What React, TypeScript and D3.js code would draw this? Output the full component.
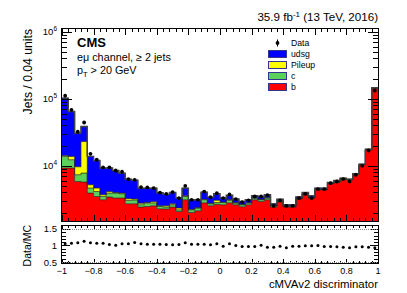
import { useEffect, useRef } from "react";
import * as d3 from "d3";

const W = 407;
const H = 293;
const frame = { left: 62, right: 378, top: 29, bottom: 221 };
const ratioFrame = { top: 226, bottom: 263 };
const binWidth = 0.04;

// stacked MC, 50 bins from -1 to 1
const bJets = [9250, 9250, 5830, 5710, 3910, 3480, 3110, 3410, 3300, 3300, 2710, 2710, 2420, 2470, 2530, 2280, 2260, 2420, 2080, 3110, 2010, 2130, 2800, 2530, 2660, 2620, 2800, 2620, 2450, 2620, 3110, 2930, 3110, 2420, 2900, 2420, 2420, 3190, 3690, 3300, 4380, 4380, 5380, 5640, 6330, 6180, 7480, 10350, 17200, 144000];
const cJets = [4550, 3050, 1520, 2070, 740, 650, 370, 500, 610, 520, 330, 370, 200, 300, 240, 190, 160, 200, 120, 370, 190, 210, 310, 180, 170, 210, 260, 150, 170, 150, 190, 180, 190, 110, 80, 70, 70, 60, 60, 60, 60, 60, 70, 80, 80, 60, 50, 100, 150, 500];
const pileupJets = [400, 1500, 2310, 15220, 550, 520, 210, 220, 80, 90, 190, 110, 150, 60, 130, 60, 110, 90, 140, 90, 40, 30, 50, 40, 230, 40, 50, 30, 20, 30, 40, 30, 40, 20, 20, 10, 10, 10, 10, 10, 10, 10, 10, 10, 10, 10, 10, 10, 20, 50];
const udsgJets = [88200, 50800, 21040, 15600, 8600, 7350, 5560, 5120, 4520, 3870, 3100, 2920, 1880, 1820, 1750, 1420, 1220, 1280, 960, 1080, 870, 740, 890, 660, 760, 430, 520, 390, 290, 310, 230, 340, 350, 170, 160, 120, 120, 180, 230, 200, 200, 200, 180, 310, 130, 80, 60, 140, 330, 1500];
const dataJets = [110900, 68500, 32200, 44300, 15100, 12300, 9440, 9500, 8510, 8150, 6330, 6180, 4810, 4760, 4650, 3990, 3820, 4050, 3300, 5020, 3110, 3110, 4130, 3410, 3910, 3300, 3730, 3190, 2870, 3040, 3480, 3480, 3650, 2530, 3040, 2530, 2530, 3300, 3820, 3300, 4490, 4490, 5530, 5830, 6330, 5830, 7350, 10000, 16900, 133000];
const ratio = [1.05, 1.07, 1.08, 1.13, 1.08, 1.07, 1.07, 1.03, 1.01, 1.05, 1.05, 1.09, 1.05, 1.04, 1.04, 1.04, 1.03, 1.02, 1.03, 1.08, 1.04, 1.04, 1.04, 1.02, 1.05, 0.98, 1.05, 1.0, 0.97, 0.97, 0.97, 1.01, 0.95, 0.95, 0.98, 0.93, 0.98, 0.98, 0.99, 0.99, 1.0, 0.97, 0.97, 0.96, 0.95, 0.93, 0.96, 0.96, 0.95, 0.93];

const layerKeys = ["b", "c", "pileup", "udsg"];
const layerColors = { b: "#ff0000", c: "#5bd05b", pileup: "#ffff00", udsg: "#0000ff" };
const legendEntries = [
  { key: "udsg", label: "udsg" },
  { key: "pileup", label: "Pileup" },
  { key: "c", label: "c" },
  { key: "b", label: "b" },
];

const xTicks = [-1, -0.8, -0.6, -0.4, -0.2, 0, 0.2, 0.4, 0.6, 0.8, 1];
const xTickLabels = ["\u22121", "\u22120.8", "\u22120.6", "\u22120.4", "\u22120.2", "0", "0.2", "0.4", "0.6", "0.8", "1"];
const yDecades = [4, 5, 6];
const ratioTicks = [0.5, 1, 1.5];
const ratioTickLabels = ["0.5", "1", "1.5"];

const font = "'Liberation Sans', Arial, Helvetica, sans-serif";

const App = () => {
  const svgRef = useRef(null);

  useEffect(() => {
    const svg = d3.select(svgRef.current);
    svg.selectAll("*").remove();

    const x = d3.scaleLinear().domain([-1, 1]).range([frame.left, frame.right]);
    const y = d3.scaleLog().domain([1500, 1.1e6]).range([frame.bottom, frame.top]).clamp(true);
    const yr = d3.scaleLinear().domain([0.47, 1.59]).range([ratioFrame.bottom, ratioFrame.top]);

    const table = bJets.map((b, i) => ({ b, c: cJets[i], pileup: pileupJets[i], udsg: udsgJets[i] }));
    const series = d3.stack().keys(layerKeys)(table as any);

    const edge = (i: number) => -1 + i * binWidth;
    const steps = (layer: any) =>
      layer.flatMap((d: any, i: number) => [
        { x: edge(i), lo: d[0], hi: d[1] },
        { x: edge(i + 1), lo: d[0], hi: d[1] },
      ]);

    svg.append("clipPath").attr("id", "mainclip")
      .append("rect")
      .attr("x", frame.left).attr("y", frame.top)
      .attr("width", frame.right - frame.left).attr("height", frame.bottom - frame.top);

    const g = svg.append("g").attr("clip-path", "url(#mainclip)");

    const area = d3.area<any>()
      .x(p => x(p.x))
      .y0(p => (p.lo > 0 ? y(p.lo) : frame.bottom))
      .y1(p => y(p.hi));
    const line = d3.line<any>().x(p => x(p.x)).y(p => y(p.hi));

    series.forEach(layer => {
      const pts = steps(layer);
      g.append("path").attr("d", area(pts)).attr("fill", layerColors[layer.key]);
    });
    series.forEach(layer => {
      g.append("path").attr("d", line(steps(layer)))
        .attr("fill", "none").attr("stroke", "#222").attr("stroke-width", 0.7);
    });
    const top = series[series.length - 1];
    g.append("path").attr("d", line(steps(top)))
      .attr("fill", "none").attr("stroke", "#444").attr("stroke-width", 1.4);

    // data points
    g.selectAll("circle.data").data(dataJets).join("circle")
      .attr("cx", (_, i) => x(edge(i) + binWidth / 2))
      .attr("cy", d => y(d))
      .attr("r", 1.9)
      .attr("fill", "#000");

    // ticks on all four sides
    const tk = svg.append("g").attr("stroke", "#000").attr("stroke-width", 1);
    d3.range(51).forEach(i => {
      const v = edge(i);
      const major = i % 5 === 0;
      const len = major ? 6 : 3;
      const px = Math.round(x(v)) + 0.5;
      tk.append("line").attr("x1", px).attr("x2", px).attr("y1", frame.bottom).attr("y2", frame.bottom - len);
      tk.append("line").attr("x1", px).attr("x2", px).attr("y1", frame.top).attr("y2", frame.top + len);
      const rlen = major ? 4 : 2;
      tk.append("line").attr("x1", px).attr("x2", px).attr("y1", ratioFrame.bottom).attr("y2", ratioFrame.bottom - rlen);
      tk.append("line").attr("x1", px).attr("x2", px).attr("y1", ratioFrame.top).attr("y2", ratioFrame.top + rlen);
    });
    [3, 4, 5].forEach(dec => {
      d3.range(1, 10).forEach(m => {
        const v = m * Math.pow(10, dec);
        if (v < 1500 || v > 1.1e6) return;
        const py = Math.round(y(v)) + 0.5;
        const len = m === 1 ? 10 : 5;
        tk.append("line").attr("x1", frame.left).attr("x2", frame.left + len).attr("y1", py).attr("y2", py);
        tk.append("line").attr("x1", frame.right).attr("x2", frame.right - len).attr("y1", py).attr("y2", py);
      });
    });
    {
      const py = Math.round(y(1e6)) + 0.5;
      tk.append("line").attr("x1", frame.left).attr("x2", frame.left + 10).attr("y1", py).attr("y2", py);
      tk.append("line").attr("x1", frame.right).attr("x2", frame.right - 10).attr("y1", py).attr("y2", py);
    }
    d3.range(5, 16).forEach(k => {
      const v = k / 10;
      const major = k % 5 === 0;
      const len = major ? 8 : 4;
      const py = Math.round(yr(v)) + 0.5;
      tk.append("line").attr("x1", frame.left).attr("x2", frame.left + len).attr("y1", py).attr("y2", py);
      tk.append("line").attr("x1", frame.right).attr("x2", frame.right - len).attr("y1", py).attr("y2", py);
    });

    // frames
    svg.append("rect")
      .attr("x", frame.left - 0.5).attr("y", frame.top - 0.5)
      .attr("width", frame.right - frame.left + 1).attr("height", frame.bottom - frame.top + 1)
      .attr("fill", "none").attr("stroke", "#000");
    svg.append("rect")
      .attr("x", frame.left - 0.5).attr("y", ratioFrame.top - 0.5)
      .attr("width", frame.right - frame.left + 1).attr("height", ratioFrame.bottom - ratioFrame.top + 1)
      .attr("fill", "none").attr("stroke", "#000");

    // ratio panel
    [0.5, 1.5].forEach(v => {
      svg.append("line")
        .attr("x1", frame.left).attr("x2", frame.right)
        .attr("y1", Math.round(yr(v)) + 0.5).attr("y2", Math.round(yr(v)) + 0.5)
        .attr("stroke", "#888").attr("stroke-dasharray", "1,1");
    });
    svg.selectAll("circle.ratio").data(ratio).join("circle")
      .attr("cx", (_, i) => x(edge(i) + binWidth / 2))
      .attr("cy", d => yr(d))
      .attr("r", 1.5)
      .attr("fill", "#000");

    // labels
    const txt = svg.append("g").attr("font-family", font).attr("fill", "#000");
    yDecades.forEach(dec => {
      const t = txt.append("text")
        .attr("x", 57).attr("y", y(Math.pow(10, dec)) + 3.5)
        .attr("text-anchor", "end").attr("font-size", 9.5);
      t.append("tspan").text("10");
      t.append("tspan").attr("dy", -4).attr("font-size", 6.5).text(dec);
    });
    ratioTicks.forEach((v, i) => {
      txt.append("text")
        .attr("x", 57).attr("y", yr(v) + 3.5)
        .attr("text-anchor", "end").attr("font-size", 9.5)
        .text(ratioTickLabels[i]);
    });
    xTicks.forEach((v, i) => {
      txt.append("text")
        .attr("x", x(v)).attr("y", 274)
        .attr("text-anchor", "middle").attr("font-size", 9)
        .text(xTickLabels[i]);
    });
    txt.append("text")
      .attr("x", frame.right).attr("y", 288)
      .attr("text-anchor", "end").attr("font-size", 11.4)
      .text("cMVAv2 discriminator");
    txt.append("text")
      .attr("transform", `translate(32,${frame.top}) rotate(-90)`)
      .attr("text-anchor", "end").attr("font-size", 12.2)
      .text("Jets / 0.04 units");
    txt.append("text")
      .attr("transform", `translate(31,${ratioFrame.top - 1}) rotate(-90)`)
      .attr("text-anchor", "end").attr("font-size", 10.5)
      .text("Data/MC");

    const lumi = txt.append("text")
      .attr("x", frame.right).attr("y", 21)
      .attr("text-anchor", "end").attr("font-size", 11.6);
    lumi.append("tspan").text("35.9 fb");
    lumi.append("tspan").attr("dy", -4.5).attr("font-size", 8).text("-1");
    lumi.append("tspan").attr("dy", 4.5).text(" (13 TeV, 2016)");

    txt.append("text").attr("x", 77).attr("y", 47)
      .attr("font-size", 13).attr("font-weight", "bold").text("CMS");
    txt.append("text").attr("x", 77).attr("y", 61)
      .attr("font-size", 10.8).text("e\u03bc channel, \u2265 2 jets");
    const pt = txt.append("text").attr("x", 77).attr("y", 74).attr("font-size", 10.8);
    pt.append("tspan").text("p");
    pt.append("tspan").attr("dy", 3).attr("font-size", 7.5).text("T");
    pt.append("tspan").attr("dy", -3).text(" > 20 GeV");

    // legend
    const lg = svg.append("g");
    const rowY = (i: number) => 43 + i * 11;
    lg.append("line").attr("x1", 277.5).attr("x2", 277.5).attr("y1", rowY(0) - 3.5).attr("y2", rowY(0) + 3.5)
      .attr("stroke", "#000");
    lg.append("circle").attr("cx", 277.5).attr("cy", rowY(0)).attr("r", 1.9).attr("fill", "#000");
    txt.append("text").attr("x", 291).attr("y", rowY(0) + 3.2).attr("font-size", 8.7).text("Data");
    legendEntries.forEach((e, i) => {
      const cy = rowY(i + 1);
      lg.append("rect")
        .attr("x", 268.5).attr("y", cy - 3.5).attr("width", 18).attr("height", 7)
        .attr("fill", layerColors[e.key]).attr("stroke", "#35358a").attr("stroke-width", 1);
      txt.append("text").attr("x", 291).attr("y", cy + 3.2).attr("font-size", 8.7).text(e.label);
    });
  }, []);

  return (
    <svg
      ref={svgRef}
      width={W}
      height={H}
      style={{ position: "absolute", left: 0, top: 0, background: "#fff" }}
    />
  );
};

export default App;
